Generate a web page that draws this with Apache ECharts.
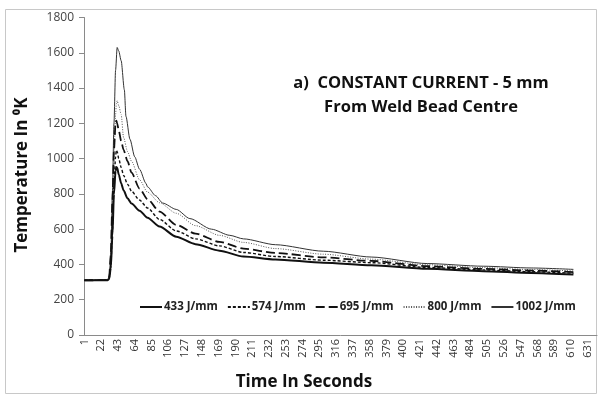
<!DOCTYPE html>
<html>
<head>
<meta charset="utf-8">
<script src="https://cdn.jsdelivr.net/npm/echarts@6/dist/echarts.min.js"></script>
<style>html,body{margin:0;padding:0;background:#fff;}#c{width:598px;height:396px;}</style>
</head>
<body>
<div id="c"></div>
<script>
// ---- data ----
const seriesNames = ['433 J/mm', '574 J/mm', '695 J/mm', '800 J/mm', '1002 J/mm'];
const lastSecond = 642;
const yTicks = [0, 200, 400, 600, 800, 1000, 1200, 1400, 1600, 1800];

const timeShared = [1, 30, 32, 34, 36, 38, 40, 41, 42, 44, 47, 50, 55, 60, 70, 80, 95, 116, 140, 170, 200, 240, 300, 360, 430, 500, 560, 613];
const temp433 = [310, 311, 318, 380, 560, 800, 930, 952, 948, 910, 860, 820, 775, 745, 705, 665, 615, 557, 515, 478, 445, 428, 410, 395, 375, 362, 352, 343];
const temp574 = [310, 311, 318, 380, 580, 850, 1010, 1048, 1040, 1000, 950, 905, 855, 815, 765, 720, 655, 590, 545, 505, 468, 445, 424, 410, 383, 369, 359, 350];
const temp695 = [310, 311, 330, 450, 750, 1050, 1200, 1215, 1200, 1160, 1100, 1050, 985, 920, 830, 770, 700, 624, 575, 528, 490, 465, 440, 420, 390, 375, 365, 357];
const temp800 = [310, 311, 320, 400, 650, 1000, 1250, 1310, 1328, 1300, 1250, 1120, 1040, 985, 880, 810, 750, 690, 620, 565, 525, 490, 458, 430, 398, 382, 371, 363];

const time1002 = [1, 30, 32, 34, 36, 38, 40, 42, 44, 47, 51, 53, 58, 64, 70, 78, 80, 90, 99, 116, 133, 160, 183, 200, 240, 300, 360, 430, 500, 560, 613];
const temp1002 = [310, 311, 330, 450, 800, 1200, 1500, 1630, 1610, 1555, 1390, 1240, 1110, 1010, 940, 860, 840, 790, 748, 712, 660, 600, 565, 545, 512, 475, 442, 405, 390, 380, 372];

// ---- build ----
const categories = [];
for (let i = 1; i <= lastSecond; i++) categories.push(String(i));
function pairs(t, v) { return t.map((x, i) => [String(x), v[i]]); }

const FONT = '"Open Sans", "DejaVu Sans", sans-serif';
const styles = [
  { color: '#111', width: 2, type: 'solid' },
  { color: '#111', width: 1.4, type: [3, 2] },
  { color: '#111', width: 1.8, type: [9, 4] },
  { color: '#555', width: 1, type: [1, 1.5] },
  { color: '#333', width: 1, type: 'solid' }
];
const dataSets = [pairs(timeShared, temp433), pairs(timeShared, temp574), pairs(timeShared, temp695), pairs(timeShared, temp800), pairs(time1002, temp1002)];

const chart = echarts.init(document.getElementById('c'), null, { renderer: 'canvas' });
chart.setOption({
  animation: false,
  backgroundColor: '#fff',
  title: {
    text: 'a)  CONSTANT CURRENT - 5 mm\nFrom Weld Bead Centre',
    left: 416, top: 66, textAlign: 'center',
    textStyle: { fontFamily: FONT, fontWeight: 'bold', fontSize: 16.5, color: '#111', lineHeight: 24 }
  },
  graphic: [
    { type: 'rect', shape: { x: 5.5, y: 9.5, width: 591, height: 384 }, style: { fill: 'none', stroke: '#c8c8c8', lineWidth: 1 }, z: -1 },
    { type: 'text', x: 22, y: 175, rotation: Math.PI / 2, style: { text: 'Temperature In \u2070K', font: 'bold 17px "Open Sans", sans-serif', fill: '#111', align: 'center', verticalAlign: 'middle' } },
    { type: 'text', x: 304, y: 382, style: { text: 'Time In Seconds', font: 'bold 17px "Open Sans", sans-serif', fill: '#111', align: 'center', verticalAlign: 'middle' } }
  ],
  legend: {
    data: seriesNames,
    left: 134, top: 296,
    itemWidth: 22, itemHeight: 10, itemGap: 9,
    itemStyle: { color: 'transparent', borderColor: 'transparent', borderWidth: 0, opacity: 0 },
    textStyle: { fontFamily: FONT, fontWeight: 'bold', fontSize: 11.5, color: '#222', padding: [0, 0, 0, -3] }
  },
  grid: { left: 84, right: 1, top: 17.5, bottom: 61, containLabel: false },
  xAxis: {
    type: 'category',
    data: categories,
    boundaryGap: true,
    axisLine: { lineStyle: { color: '#8a8a8a', width: 1 } },
    axisTick: { interval: 0, length: 4, lineStyle: { color: '#888', width: 0.7 } },
    axisLabel: { interval: 20, rotate: 90, fontFamily: FONT, fontSize: 11, color: '#333', margin: 4 }
  },
  yAxis: {
    type: 'value',
    min: yTicks[0], max: yTicks[yTicks.length - 1], interval: 200,
    splitLine: { show: false },
    axisLine: { show: true, lineStyle: { color: '#8a8a8a' } },
    axisTick: { show: true, length: 5, lineStyle: { color: '#8a8a8a' } },
    axisLabel: { fontFamily: FONT, fontSize: 12, color: '#444', margin: 10, formatter: v => String(v) }
  },
  series: seriesNames.map((n, i) => ({
    name: n,
    type: 'line',
    data: dataSets[i],
    symbol: 'none',
    smooth: 0.25,
    smoothMonotone: 'x',
    lineStyle: styles[i],
    itemStyle: { color: styles[i].color },
    z: 5 - i
  }))
});
</script>
</body>
</html>
